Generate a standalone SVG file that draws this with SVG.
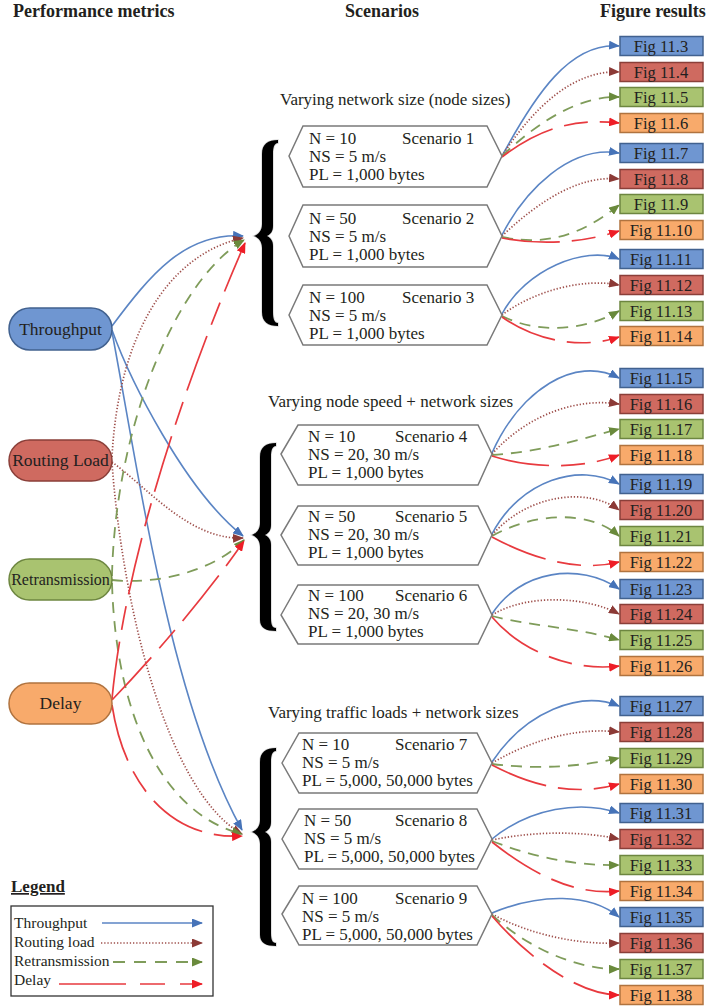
<svg xmlns="http://www.w3.org/2000/svg" width="708" height="1008" viewBox="0 0 708 1008">
  <style>
    text { font-family: "Liberation Serif", "Times New Roman", serif; fill: #231f20; }
    .hdr { font-size: 18px; font-weight: bold; }
    .lbl { font-size: 17px; }
    .met { font-size: 17.5px; text-anchor: middle; }
    .fig { font-size: 16.5px; text-anchor: middle; }
    .leg { font-size: 15.5px; }
    .hex { fill: #ffffff; stroke: #7a7a7a; stroke-width: 1.5; }
    .brace { fill: #000000; stroke: #d9d9d9; stroke-width: 1.5; paint-order: stroke; }
    .thr { fill: none; stroke: #5b85c4; stroke-width: 1.6; marker-end: url(#aThr); }
    .rtl { fill: none; stroke: #9e4f4b; stroke-width: 1.7; stroke-dasharray: 1.3 1.9; marker-end: url(#aRtl); }
    .ret { fill: none; stroke: #7f9c5a; stroke-width: 1.8; stroke-dasharray: 11 8; marker-end: url(#aRet); }
    .dly { fill: none; stroke: #e83a3f; stroke-width: 1.7; stroke-dasharray: 58 12 24 12; marker-end: url(#aDly); }
    .bBlue { fill: #6f96d1; stroke: #41618f; stroke-width: 1.5; }
    .bRed { fill: #cf6a60; stroke: #8a3f39; stroke-width: 1.5; }
    .bGreen { fill: #a9c370; stroke: #6d8640; stroke-width: 1.5; }
    .bOrange { fill: #f8aa6b; stroke: #b0733f; stroke-width: 1.5; }
  </style>
  <defs>
    <marker id="aThr" markerUnits="userSpaceOnUse" markerWidth="11" markerHeight="9" refX="10" refY="4.5" orient="auto">
      <path d="M0,0 L11,4.5 L0,9 Z" fill="#4673b8"/>
    </marker>
    <marker id="aRtl" markerUnits="userSpaceOnUse" markerWidth="11" markerHeight="9" refX="10" refY="4.5" orient="auto">
      <path d="M0,0 L11,4.5 L0,9 Z" fill="#8c3a36"/>
    </marker>
    <marker id="aRet" markerUnits="userSpaceOnUse" markerWidth="11" markerHeight="9" refX="10" refY="4.5" orient="auto">
      <path d="M0,0 L11,4.5 L0,9 Z" fill="#6a8a3c"/>
    </marker>
    <marker id="aDly" markerUnits="userSpaceOnUse" markerWidth="11" markerHeight="9" refX="10" refY="4.5" orient="auto">
      <path d="M0,0 L11,4.5 L0,9 Z" fill="#ee1d26"/>
    </marker>
  </defs>

  <rect width="708" height="1008" fill="#ffffff"/>

  <!-- column headings -->
  <g id="headings">
    <text class="hdr" x="13" y="17">Performance metrics</text>
    <text class="hdr" x="345" y="17">Scenarios</text>
    <text class="hdr" x="600" y="17">Figure results</text>
  </g>

  <!-- connectors -->
  <g id="connectors">
    <!-- metrics to scenario groups -->
    <path class="thr" d="M112,326 C150,275 185,232 243,236"/>
    <path class="thr" d="M112,330 C130,380 185,490 243,536"/>
    <path class="thr" d="M112,332 C140,480 170,700 242,830"/>
    <path class="rtl" d="M112,457 C118,340 165,255 243,238"/>
    <path class="rtl" d="M112,462 C150,490 190,540 243,538"/>
    <path class="rtl" d="M112,463 C122,600 165,790 242,834"/>
    <path class="ret" d="M112,576 C115,430 175,280 244,240"/>
    <path class="ret" d="M112,580 C160,585 215,570 244,540"/>
    <path class="ret" d="M112,583 C116,720 165,815 242,834"/>
    <path class="dly" d="M112,699 C125,560 185,380 245,243"/>
    <path class="dly" d="M112,700 C160,650 210,590 244,541"/>
    <path class="dly" d="M112,705 C125,790 175,840 242,836"/>

    <!-- scenario 1 -->
    <path class="thr" d="M502,156 C535,95 570,42 619,46"/>
    <path class="rtl" d="M502,156 C535,105 575,70 619,72"/>
    <path class="ret" d="M502,156 C540,120 580,96 619,97"/>
    <path class="dly" d="M502,157 C540,128 575,118 619,123"/>
    <!-- scenario 2 -->
    <path class="thr" d="M502,235 C525,190 570,145 619,153"/>
    <path class="rtl" d="M502,236 C540,200 580,175 619,179"/>
    <path class="ret" d="M502,237 C555,248 590,228 619,205"/>
    <path class="dly" d="M502,238 C545,246 585,242 619,231"/>
    <!-- scenario 3 -->
    <path class="thr" d="M502,314 C525,270 585,245 619,259"/>
    <path class="rtl" d="M502,315 C535,290 585,278 619,285"/>
    <path class="ret" d="M502,316 C540,335 585,330 619,311"/>
    <path class="dly" d="M502,317 C535,340 580,350 619,337"/>
    <!-- scenario 4 -->
    <path class="thr" d="M492,453 C520,390 575,355 619,378"/>
    <path class="rtl" d="M492,454 C530,412 580,398 619,404"/>
    <path class="ret" d="M492,455 C540,452 585,438 619,429"/>
    <path class="dly" d="M492,456 C530,468 580,470 619,455"/>
    <!-- scenario 5 -->
    <path class="thr" d="M492,534 C520,480 580,462 619,484"/>
    <path class="rtl" d="M492,535 C530,492 590,488 619,510"/>
    <path class="ret" d="M492,536 C535,512 590,510 619,536"/>
    <path class="dly" d="M492,537 C535,560 580,572 619,562"/>
    <!-- scenario 6 -->
    <path class="thr" d="M492,614 C520,570 580,562 619,589"/>
    <path class="rtl" d="M492,615 C530,592 590,598 619,614"/>
    <path class="ret" d="M492,616 C530,626 580,628 619,640"/>
    <path class="dly" d="M492,617 C520,650 570,672 619,666"/>
    <!-- scenario 7 -->
    <path class="thr" d="M492,762 C525,712 580,690 619,706"/>
    <path class="rtl" d="M492,763 C540,735 585,728 619,732"/>
    <path class="ret" d="M492,764 C540,770 585,766 619,758"/>
    <path class="dly" d="M492,765 C540,790 580,795 619,784"/>
    <!-- scenario 8 -->
    <path class="thr" d="M492,839 C530,808 580,800 619,813"/>
    <path class="rtl" d="M492,840 C540,830 585,832 619,839"/>
    <path class="ret" d="M492,841 C540,860 585,866 619,865"/>
    <path class="dly" d="M492,842 C540,880 580,895 619,891"/>
    <!-- scenario 9 -->
    <path class="thr" d="M492,913 C540,893 590,893 619,917"/>
    <path class="rtl" d="M492,914 C530,935 580,945 619,943"/>
    <path class="ret" d="M492,915 C530,950 580,970 619,969"/>
    <path class="dly" d="M492,916 C530,960 580,995 619,995"/>
  </g>

  <!-- performance metrics -->
  <g id="metric-throughput">
    <rect class="bBlue" x="9" y="308" width="103" height="42" rx="21"/>
    <text class="met" x="60.5" y="335">Throughput</text>
  </g>
  <g id="metric-routing-load">
    <rect class="bRed" x="9" y="440" width="103" height="41" rx="20.5"/>
    <text class="met" x="60.5" y="466">Routing Load</text>
  </g>
  <g id="metric-retransmission">
    <rect class="bGreen" x="9" y="559" width="103" height="41" rx="20.5"/>
    <text class="met" x="60.5" y="585" style="font-size:16px">Retransmission</text>
  </g>
  <g id="metric-delay">
    <rect class="bOrange" x="9" y="683" width="103" height="41" rx="20.5"/>
    <text class="met" x="60.5" y="709">Delay</text>
  </g>

  <!-- scenario groups: braces and titles -->
  <g id="group-network-size">
    <text class="lbl" x="280" y="105">Varying network size (node sizes)</text>
    <path class="brace" d="M278,140 C268,140 262,144 262,154 L262,224 C262,230 259,234 254,236 C259,238 262,242 262,248 L262,312 C262,322 268,326 278,326 L278,323 C274,323 273,318 273,312 L273,246 C273,241 271,238 267,236 C271,234 273,231 273,226 L273,154 C273,148 274,143 278,143 Z"/>
  </g>
  <g id="group-node-speed">
    <text class="lbl" x="268" y="407">Varying node speed + network sizes</text>
    <path class="brace" d="M276,443 C266,443 260,447 260,457 L260,523 C260,529 257,533 252,535 C257,537 260,541 260,547 L260,620 C260,628 266,631 276,631 L276,628 C272,628 271,624 271,618 L271,545 C271,540 269,537 265,535 C269,533 271,530 271,525 L271,457 C271,451 272,446 276,446 Z"/>
  </g>
  <g id="group-traffic-load">
    <text class="lbl" x="268" y="718">Varying traffic loads + network sizes</text>
    <path class="brace" d="M276,748 C266,748 260,752 260,762 L260,820 C260,826 257,830 252,832 C257,834 260,838 260,844 L260,935 C260,943 266,946 276,946 L276,943 C272,943 271,939 271,933 L271,842 C271,837 269,834 265,832 C269,830 271,827 271,822 L271,762 C271,756 272,751 276,751 Z"/>
  </g>

  <!-- scenarios -->
  <g id="scenario-1">
    <polygon class="hex" points="289,156 303,126 487,126 502,156 487,187 303,187"/>
    <text class="lbl" x="309" y="144">N = 10</text>
    <text class="lbl" x="402" y="144">Scenario 1</text>
    <text class="lbl" x="309" y="162">NS = 5 m/s</text>
    <text class="lbl" x="309" y="180">PL = 1,000 bytes</text>
  </g>
  <g id="scenario-2">
    <polygon class="hex" points="289,236 303,205 487,205 502,236 487,267 303,267"/>
    <text class="lbl" x="309" y="224">N = 50</text>
    <text class="lbl" x="402" y="224">Scenario 2</text>
    <text class="lbl" x="309" y="242">NS = 5 m/s</text>
    <text class="lbl" x="309" y="260">PL = 1,000 bytes</text>
  </g>
  <g id="scenario-3">
    <polygon class="hex" points="289,315 303,285 487,285 502,315 487,345 303,345"/>
    <text class="lbl" x="309" y="303">N = 100</text>
    <text class="lbl" x="402" y="303">Scenario 3</text>
    <text class="lbl" x="309" y="321">NS = 5 m/s</text>
    <text class="lbl" x="309" y="339">PL = 1,000 bytes</text>
  </g>
  <g id="scenario-4">
    <polygon class="hex" points="281,454 298,425 478,425 492,454 478,485 298,485"/>
    <text class="lbl" x="308" y="442">N = 10</text>
    <text class="lbl" x="395" y="442">Scenario 4</text>
    <text class="lbl" x="308" y="460">NS = 20, 30 m/s</text>
    <text class="lbl" x="308" y="478">PL = 1,000 bytes</text>
  </g>
  <g id="scenario-5">
    <polygon class="hex" points="281,535 298,506 478,506 492,535 478,565 298,565"/>
    <text class="lbl" x="308" y="522">N = 50</text>
    <text class="lbl" x="395" y="522">Scenario 5</text>
    <text class="lbl" x="308" y="540">NS = 20, 30 m/s</text>
    <text class="lbl" x="308" y="558">PL = 1,000 bytes</text>
  </g>
  <g id="scenario-6">
    <polygon class="hex" points="281,615 298,585 478,585 492,615 478,644 298,644"/>
    <text class="lbl" x="308" y="601">N = 100</text>
    <text class="lbl" x="395" y="601">Scenario 6</text>
    <text class="lbl" x="308" y="619">NS = 20, 30 m/s</text>
    <text class="lbl" x="308" y="637">PL = 1,000 bytes</text>
  </g>
  <g id="scenario-7">
    <polygon class="hex" points="282,763 299,733 477,733 492,763 477,793 299,793"/>
    <text class="lbl" x="302" y="750">N = 10</text>
    <text class="lbl" x="395" y="750">Scenario 7</text>
    <text class="lbl" x="302" y="768">NS = 5 m/s</text>
    <text class="lbl" x="302" y="786">PL = 5,000, 50,000 bytes</text>
  </g>
  <g id="scenario-8">
    <polygon class="hex" points="282,839 299,809 477,809 492,839 477,869 299,869"/>
    <text class="lbl" x="304" y="826">N = 50</text>
    <text class="lbl" x="395" y="826">Scenario 8</text>
    <text class="lbl" x="304" y="844">NS = 5 m/s</text>
    <text class="lbl" x="304" y="862">PL = 5,000, 50,000 bytes</text>
  </g>
  <g id="scenario-9">
    <polygon class="hex" points="282,914 299,886 477,886 492,914 477,945 299,945"/>
    <text class="lbl" x="302" y="904">N = 100</text>
    <text class="lbl" x="395" y="904">Scenario 9</text>
    <text class="lbl" x="302" y="922">NS = 5 m/s</text>
    <text class="lbl" x="302" y="940">PL = 5,000, 50,000 bytes</text>
  </g>

  <!-- figure results -->
  <g id="fig-11-3"><rect class="bBlue" x="620" y="36.5" width="83" height="19"/><text class="fig" x="661" y="52">Fig 11.3</text></g>
  <g id="fig-11-4"><rect class="bRed" x="620" y="62.5" width="83" height="19"/><text class="fig" x="661" y="78">Fig 11.4</text></g>
  <g id="fig-11-5"><rect class="bGreen" x="620" y="87.5" width="83" height="19"/><text class="fig" x="661" y="103">Fig 11.5</text></g>
  <g id="fig-11-6"><rect class="bOrange" x="620" y="113.5" width="83" height="19"/><text class="fig" x="661" y="129">Fig 11.6</text></g>
  <g id="fig-11-7"><rect class="bBlue" x="620" y="143.5" width="83" height="19"/><text class="fig" x="661" y="159">Fig 11.7</text></g>
  <g id="fig-11-8"><rect class="bRed" x="620" y="169.5" width="83" height="19"/><text class="fig" x="661" y="185">Fig 11.8</text></g>
  <g id="fig-11-9"><rect class="bGreen" x="620" y="194.5" width="83" height="19"/><text class="fig" x="661" y="210">Fig 11.9</text></g>
  <g id="fig-11-10"><rect class="bOrange" x="620" y="220.5" width="83" height="19"/><text class="fig" x="661" y="236">Fig 11.10</text></g>
  <g id="fig-11-11"><rect class="bBlue" x="620" y="249.5" width="83" height="19"/><text class="fig" x="661" y="265">Fig 11.11</text></g>
  <g id="fig-11-12"><rect class="bRed" x="620" y="275.5" width="83" height="19"/><text class="fig" x="661" y="291">Fig 11.12</text></g>
  <g id="fig-11-13"><rect class="bGreen" x="620" y="301.5" width="83" height="19"/><text class="fig" x="661" y="317">Fig 11.13</text></g>
  <g id="fig-11-14"><rect class="bOrange" x="620" y="326.5" width="83" height="19"/><text class="fig" x="661" y="342">Fig 11.14</text></g>

  <g id="fig-11-15"><rect class="bBlue" x="620" y="368.5" width="83" height="19"/><text class="fig" x="661" y="384">Fig 11.15</text></g>
  <g id="fig-11-16"><rect class="bRed" x="620" y="394.5" width="83" height="19"/><text class="fig" x="661" y="410">Fig 11.16</text></g>
  <g id="fig-11-17"><rect class="bGreen" x="620" y="419.5" width="83" height="19"/><text class="fig" x="661" y="435">Fig 11.17</text></g>
  <g id="fig-11-18"><rect class="bOrange" x="620" y="445.5" width="83" height="19"/><text class="fig" x="661" y="461">Fig 11.18</text></g>
  <g id="fig-11-19"><rect class="bBlue" x="620" y="474.5" width="83" height="19"/><text class="fig" x="661" y="490">Fig 11.19</text></g>
  <g id="fig-11-20"><rect class="bRed" x="620" y="500.5" width="83" height="19"/><text class="fig" x="661" y="516">Fig 11.20</text></g>
  <g id="fig-11-21"><rect class="bGreen" x="620" y="526.5" width="83" height="19"/><text class="fig" x="661" y="542">Fig 11.21</text></g>
  <g id="fig-11-22"><rect class="bOrange" x="620" y="552.5" width="83" height="19"/><text class="fig" x="661" y="568">Fig 11.22</text></g>
  <g id="fig-11-23"><rect class="bBlue" x="620" y="579.5" width="83" height="19"/><text class="fig" x="661" y="595">Fig 11.23</text></g>
  <g id="fig-11-24"><rect class="bRed" x="620" y="604.5" width="83" height="19"/><text class="fig" x="661" y="620">Fig 11.24</text></g>
  <g id="fig-11-25"><rect class="bGreen" x="620" y="630.5" width="83" height="19"/><text class="fig" x="661" y="646">Fig 11.25</text></g>
  <g id="fig-11-26"><rect class="bOrange" x="620" y="656.5" width="83" height="19"/><text class="fig" x="661" y="672">Fig 11.26</text></g>

  <g id="fig-11-27"><rect class="bBlue" x="620" y="696.5" width="83" height="19"/><text class="fig" x="661" y="712">Fig 11.27</text></g>
  <g id="fig-11-28"><rect class="bRed" x="620" y="722.5" width="83" height="19"/><text class="fig" x="661" y="738">Fig 11.28</text></g>
  <g id="fig-11-29"><rect class="bGreen" x="620" y="748.5" width="83" height="19"/><text class="fig" x="661" y="764">Fig 11.29</text></g>
  <g id="fig-11-30"><rect class="bOrange" x="620" y="774.5" width="83" height="19"/><text class="fig" x="661" y="790">Fig 11.30</text></g>
  <g id="fig-11-31"><rect class="bBlue" x="620" y="803.5" width="83" height="19"/><text class="fig" x="661" y="819">Fig 11.31</text></g>
  <g id="fig-11-32"><rect class="bRed" x="620" y="829.5" width="83" height="19"/><text class="fig" x="661" y="845">Fig 11.32</text></g>
  <g id="fig-11-33"><rect class="bGreen" x="620" y="855.5" width="83" height="19"/><text class="fig" x="661" y="871">Fig 11.33</text></g>
  <g id="fig-11-34"><rect class="bOrange" x="620" y="881.5" width="83" height="19"/><text class="fig" x="661" y="897">Fig 11.34</text></g>
  <g id="fig-11-35"><rect class="bBlue" x="620" y="907.5" width="83" height="19"/><text class="fig" x="661" y="923">Fig 11.35</text></g>
  <g id="fig-11-36"><rect class="bRed" x="620" y="933.5" width="83" height="19"/><text class="fig" x="661" y="949">Fig 11.36</text></g>
  <g id="fig-11-37"><rect class="bGreen" x="620" y="959.5" width="83" height="19"/><text class="fig" x="661" y="975">Fig 11.37</text></g>
  <g id="fig-11-38"><rect class="bOrange" x="620" y="985.5" width="83" height="19"/><text class="fig" x="661" y="1001">Fig 11.38</text></g>

  <!-- legend -->
  <g id="legend">
    <text class="hdr" x="11" y="892" style="font-size:17px" text-decoration="underline">Legend</text>
    <rect x="11" y="906" width="202" height="90" fill="#ffffff" stroke="#333333" stroke-width="1.3"/>
    <text class="leg" x="14" y="928">Throughput</text>
    <text class="leg" x="14" y="947">Routing load</text>
    <text class="leg" x="14" y="966">Retransmission</text>
    <text class="leg" x="14" y="985">Delay</text>
    <path class="thr" d="M102,923 L202,923"/>
    <path class="rtl" d="M101,943 L202,943"/>
    <path class="ret" d="M113,962 L202,962" style="stroke-dasharray: 12 9"/>
    <path class="dly" d="M59,984 L202,984" style="stroke-dasharray: 67 14 25 15"/>
  </g>
</svg>
